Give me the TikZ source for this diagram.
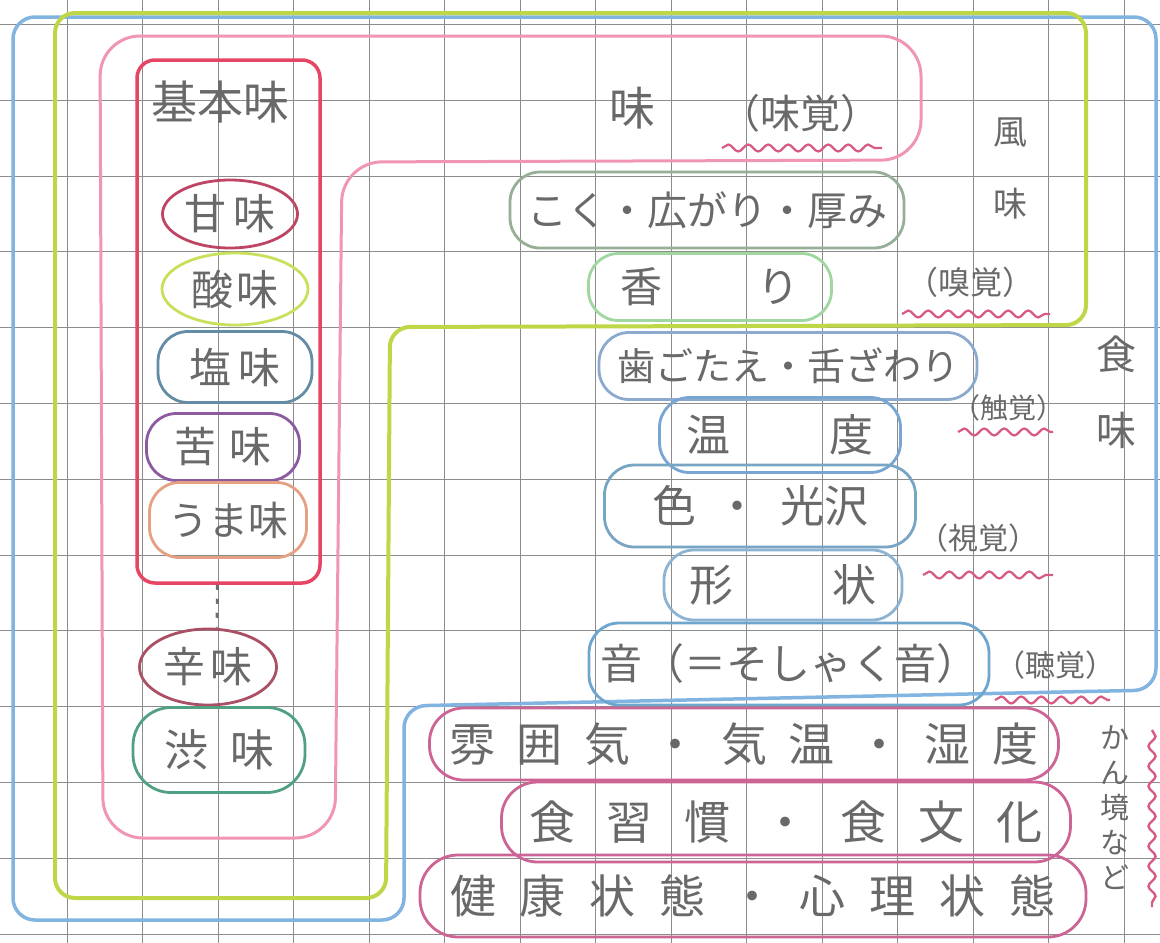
\documentclass[tikz,border=0pt]{standalone}
\usepackage{fontspec}
\newfontfamily\jp{Noto Sans CJK JP}
\usetikzlibrary{decorations.pathmorphing,shapes.geometric}
\newcommand\jfs[1]{\fontsize{#1}{#1}\selectfont}
\newlength\spg
\def\sptx#1#2{\setlength\spg{#1pt}\sptxaux#2\relax\unskip}
\def\sptxaux#1{\ifx#1\relax\else#1\hspace{\spg}\expandafter\sptxaux\fi}
\definecolor{gridc}{RGB}{140,140,140}
\definecolor{txt}{RGB}{105,105,105}
\definecolor{cBlue}{RGB}{130,180,225}
\definecolor{cGreen}{RGB}{190,215,70}
\definecolor{cPink}{RGB}{240,150,180}
\definecolor{cRed}{RGB}{230,70,100}
\definecolor{wavec}{RGB}{215,90,130}
\definecolor{cAma}{RGB}{190,70,100}
\definecolor{cSan}{RGB}{200,225,90}
\definecolor{cEn}{RGB}{100,140,165}
\definecolor{cNiga}{RGB}{140,90,160}
\definecolor{cUma}{RGB}{230,160,130}
\definecolor{cKara}{RGB}{170,80,100}
\definecolor{cShibu}{RGB}{80,160,130}
\definecolor{cKoku}{RGB}{150,175,150}
\definecolor{cKaori}{RGB}{160,215,160}
\definecolor{cHa}{RGB}{140,170,205}
\definecolor{cOndo}{RGB}{120,165,210}
\definecolor{cIro}{RGB}{120,165,195}
\definecolor{cKei}{RGB}{140,180,210}
\definecolor{cOto}{RGB}{110,165,205}
\definecolor{cEnv}{RGB}{205,100,150}
\definecolor{dotc}{RGB}{110,110,110}
\begin{document}
\begin{tikzpicture}[x=1pt,y=-1pt,
  gridl/.style={draw=gridc, line width=1pt},
  grp/.style={line width=3.5pt, line join=round},
  tb/.style={draw, line width=2.8pt, rounded corners=30pt, inner sep=0pt, text=txt},
  el/.style={draw, ellipse, line width=2.8pt, inner sep=0pt, text=txt},
  lbl/.style={text=txt, inner sep=0pt},
  wave/.style={draw=wavec, line width=2.2pt, decorate, decoration={snake, amplitude=3.5pt, segment length=20pt}},
]
\useasboundingbox (0,0) rectangle (1160,943);
\fill[white] (0,0) rectangle (1160,943);
% grid
\foreach \i in {0,...,14} \draw[gridl] ({67+75.5*\i},0) -- ({67+75.5*\i},943);
\foreach \j in {0,...,12} \draw[gridl] (0,{24.5+75.8*\j}) -- (1160,{24.5+75.8*\j});
% group outlines
\draw[grp, draw=cBlue, rounded corners=22pt] (13,17) -- (1156,17) -- (1156,690) -- (404,706) -- (404,920) -- (13,920) -- cycle;
\draw[grp, draw=cGreen, line width=4pt, rounded corners=20pt] (55,13) -- (1086,13) -- (1086,325) -- (390,327) -- (386,898) -- (55,898) -- cycle;
\draw[grp, draw=cPink, line width=3pt, rounded corners=40pt] (100,36) -- (921,36) -- (921,160) -- (342,162) -- (335,838) -- (103,838) -- cycle;
% basic tastes
\node[draw=cRed, line width=3.5pt, rounded corners=18pt, minimum width=183, minimum height=523, inner sep=0pt] (kihon) at (228.5,321.5) {};
\node[lbl, font=\jp\jfs{46}] (kihonlbl) at (220,102) {基本味};
\node[el, draw=cAma, minimum width=135, minimum height=68, font=\jp\jfs{42}] (ama) at (230,214) {\sptx{8}{甘味}};
\node[el, draw=cSan, minimum width=146, minimum height=72, font=\jp\jfs{42}] (san) at (235,289) {\sptx{4}{酸味}};
\node[tb, draw=cEn, minimum width=154, minimum height=71, font=\jp\jfs{42}] (en) at (235,367) {\sptx{8}{塩味}};
\node[tb, draw=cNiga, minimum width=153, minimum height=67, font=\jp\jfs{42}] (niga) at (223,447) {\sptx{14}{苦味}};
\node[tb, draw=cUma, minimum width=157, minimum height=75, font=\jp\jfs{40}] (uma) at (228,520) {うま味};
\node[el, draw=cKara, minimum width=137, minimum height=76, font=\jp\jfs{42}] (kara) at (208,667) {\sptx{6}{辛味}};
\node[tb, draw=cShibu, minimum width=172, minimum height=85, rounded corners=38pt, font=\jp\jfs{44}] (shibu) at (219,750) {\sptx{22}{渋味}};
\draw[draw=dotc, line width=3pt, dash pattern=on 5pt off 9pt] ([xshift=-11pt]kihon.south) -- ([xshift=9pt]kara.north);
% taste
\node[lbl, font=\jp\jfs{46}] (aji) at (632,108) {味};
\node[lbl, font=\jp\jfs{40}] (mikaku) at (800,113) {（味覚）};
\draw[wave] (722,148) -- (882,148);
% flavor
\node[tb, draw=cKoku, minimum width=394, minimum height=76, font=\jp\jfs{40}] (koku) at (707,210) {こく・広がり・厚み};
\node[tb, draw=cKaori, minimum width=243, minimum height=67, font=\jp\jfs{42}] (kaori) at (710,287) {香\hspace{95pt}り};
\node[lbl, font=\jp\jfs{32}] (kyu) at (970,282) {（嗅覚）};
\draw[wave] (902,314) -- (1050,314);
\node[lbl, align=center, font=\jp\jfs{34}] (fumi) at (1010,168) {風\\[38pt]味};
% texture etc
\node[tb, draw=cHa, minimum width=378, minimum height=67, font=\jp\jfs{38}] (ha) at (788,366) {歯ごたえ・舌ざわり};
\node[lbl, font=\jp\jfs{28}] (shok) at (1008,408) {（触覚）};
\draw[wave] (958,432) -- (1053,432);
\node[tb, draw=cOndo, minimum width=241, minimum height=75, font=\jp\jfs{44}] (ondo) at (780,435) {温\hspace{100pt}度};
\node[tb, draw=cIro, minimum width=311, minimum height=82, font=\jp\jfs{44}] (iro) at (760,506) {色\hspace{20pt}・\hspace{20pt}光沢};
\node[lbl, font=\jp\jfs{30}] (shik) at (978,538) {（視覚）};
\draw[wave] (923,575) -- (1053,575);
\node[tb, draw=cKei, minimum width=238, minimum height=70, font=\jp\jfs{44}] (kei) at (783,585) {形\hspace{100pt}状};
\node[tb, draw=cOto, minimum width=400, minimum height=82, font=\jp\jfs{42}] (oto) at (789,664) {音（＝そしゃく音）};
\node[lbl, font=\jp\jfs{30}] (chok) at (1055,665) {（聴覚）};
\draw[wave] (995,700) -- (1110,700);
\node[lbl, align=center, font=\jp\jfs{40}] (shokumi) at (1116,392) {食\\[36pt]味};
% environment
\node[tb, draw=cEnv, minimum width=629, minimum height=72, rounded corners=34pt, font=\jp\jfs{46}] (fun) at (744,744) {\sptx{22}{雰囲気・気温・湿度}};
\node[tb, draw=cEnv, minimum width=569, minimum height=80, rounded corners=36pt, font=\jp\jfs{46}] (shu) at (786,822) {\sptx{32}{食習慣・食文化}};
\node[tb, draw=cEnv, minimum width=666, minimum height=82, rounded corners=38pt, font=\jp\jfs{46}] (ken) at (753,896) {\sptx{24}{健康状態・心理状態}};
\node[lbl, align=center, font=\jp\jfs{29}] (kankyo) at (1115,808) {か\\[6pt]ん\\[6pt]境\\[6pt]な\\[6pt]ど};
\draw[wave, line width=2.4pt] (1152,730) -- (1152,907);
\end{tikzpicture}
\end{document}
